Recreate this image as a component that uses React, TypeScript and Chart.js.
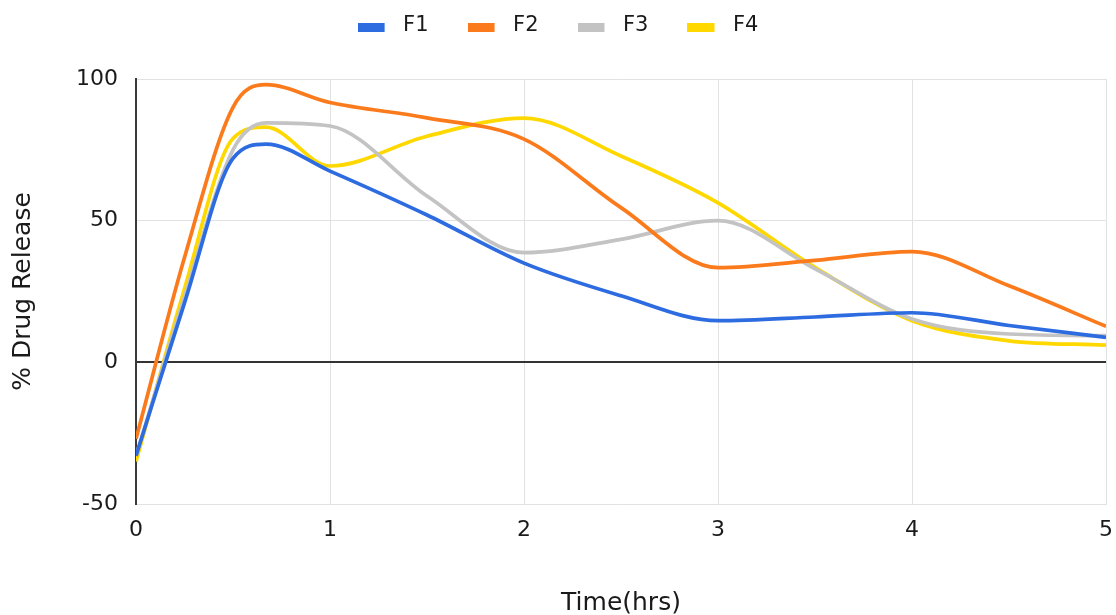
import React, { useEffect, useRef } from "react";
import { Chart, registerables } from "chart.js";

Chart.register(...registerables);

const times = [0, 0.25, 0.5, 0.67, 1, 1.5, 2, 2.5, 3, 3.5, 4, 4.5, 5];
const f1 = [-33, 21, 72, 77, 67.5, 52, 35, 23.5, 14.7, 16, 17.5, 13, 8.8];
const f2 = [-27, 37, 90, 98, 91.7, 86.3, 78.8, 54.6, 33.4, 36, 39.1, 27, 12.7];
const f3 = [-33, 23, 75, 84.5, 83.4, 58.7, 38.7, 43.4, 50, 33, 15.3, 10, 9.4];
const f4 = [-35, 26, 79, 83, 69.3, 79.8, 86.2, 72.8, 56.3, 33.5, 14.7, 7.6, 6.1];
const seriesNames = ["F1", "F2", "F3", "F4"];
const seriesColors = ["#2d6be0", "#fb7a1c", "#c3c3c3", "#ffd800"];
const yTicks = [-50, 0, 50, 100];
const xTicks = [0, 1, 2, 3, 4, 5];

const FONT = "'DejaVu Sans', sans-serif";

function legendSwatch(color: string): HTMLCanvasElement {
  const c = document.createElement("canvas");
  c.width = 35;
  c.height = 13;
  const ctx = c.getContext("2d") as CanvasRenderingContext2D;
  ctx.fillStyle = color;
  ctx.fillRect(0, 4, 27, 9);
  return c;
}

export default function App() {
  const ref = useRef<HTMLCanvasElement | null>(null);
  useEffect(() => {
    document.body.style.margin = "0";
    const all = [f1, f2, f3, f4];
    const legendFix = {
      id: "legendFix",
      afterInit(chart: any) {
        const lg = chart.legend;
        const orig = lg.fit;
        lg.fit = function () {
          orig.call(this);
          this.height = 79;
        };
      },
      afterLayout(chart: any) {
        const lg = chart.legend;
        if (lg) lg.top = -24;
      },
    };
    const chart = new Chart(ref.current as HTMLCanvasElement, {
      type: "line",
      data: {
        datasets: all.map((vals, i) => ({
          label: seriesNames[i],
          data: times.map((t, j) => ({ x: t, y: vals[j] })),
          borderColor: seriesColors[i],
          backgroundColor: seriesColors[i],
          borderWidth: 3.7,
          pointRadius: 0,
          pointStyle: legendSwatch(seriesColors[i]),
          cubicInterpolationMode: "monotone",
          fill: false,
        })),
      },
      options: {
        responsive: false,
        animation: false,
        layout: { padding: { top: 0, right: 10, bottom: 0, left: 10 } },
        plugins: {
          legend: {
            position: "top",
            labels: {
              usePointStyle: true,
              pointStyleWidth: 35,
              boxHeight: 9,
              padding: 39,
              color: "#1a1a1a",
              font: { family: FONT, size: 21 },
            },
          },
          tooltip: { enabled: false },
        },
        scales: {
          x: {
            type: "linear",
            min: xTicks[0],
            max: xTicks[xTicks.length - 1],
            afterBuildTicks: (s: any) => {
              s.ticks = xTicks.map((v) => ({ value: v }));
            },
            ticks: { color: "#1a1a1a", font: { family: FONT, size: 22 }, padding: 13 },
            grid: { color: "#e2e2e2", drawTicks: false },
            border: { color: "#e2e2e2" },
            title: {
              display: true,
              text: "Time(hrs)",
              color: "#1a1a1a",
              font: { family: FONT, size: 25 },
              padding: { top: 0, bottom: -3 },
            },
            afterFit: (s: any) => {
              s.height = 111;
              s.paddingLeft = 0;
              s.paddingRight = 0;
            },
          },
          y: {
            min: yTicks[0],
            max: yTicks[yTicks.length - 1],
            afterBuildTicks: (s: any) => {
              s.ticks = yTicks.map((v) => ({ value: v }));
            },
            ticks: { color: "#1a1a1a", font: { family: FONT, size: 22 }, padding: 18 },
            grid: {
              color: (ctx: any) => (ctx.tick && ctx.tick.value === 0 ? "#333" : "#e2e2e2"),
              lineWidth: (ctx: any) => (ctx.tick && ctx.tick.value === 0 ? 2 : 1),
              drawTicks: false,
            },
            border: { color: "#3a3a3a", width: 2 },
            title: {
              display: true,
              text: "% Drug Release",
              color: "#1a1a1a",
              font: { family: FONT, size: 25 },
              padding: { top: -2, bottom: 0 },
            },
            afterFit: (s: any) => {
              s.width = 126;
            },
          },
        },
      },
      plugins: [legendFix],
    });
    return () => chart.destroy();
  }, []);
  return (
    <div style={{ width: 1116, height: 615 }}>
      <canvas ref={ref} width={1116} height={615} />
    </div>
  );
}
